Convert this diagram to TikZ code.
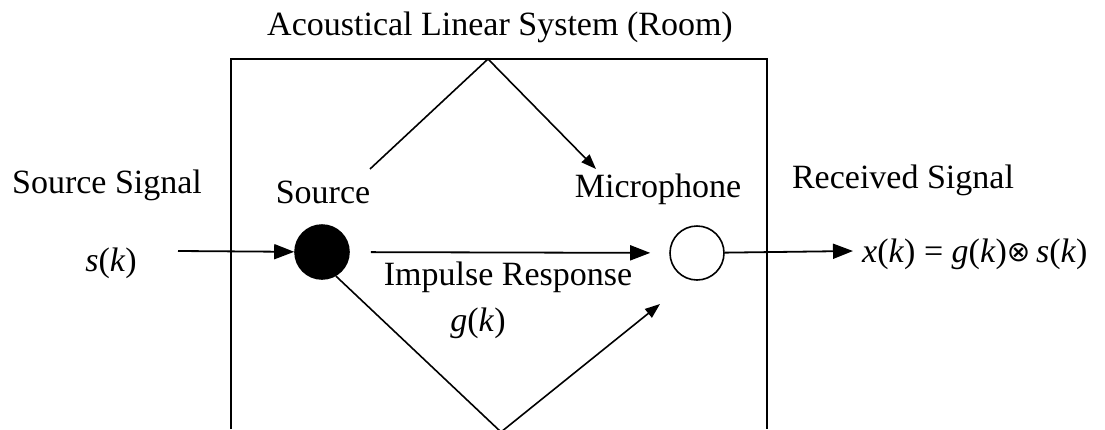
\documentclass[tikz,border=0pt]{standalone}
\usepackage{fontspec}
\setmainfont{Liberation Serif}
\newfontfamily\symfont{DejaVu Sans}
\usetikzlibrary{arrows.meta}
\begin{document}
\begin{tikzpicture}[x=1pt,y=-1pt, every node/.style={font=\fontsize{34}{40}\selectfont,inner sep=0pt},
  lbl/.style={anchor=base},
  arr/.style={line width=1.8pt,-{Triangle[length=20pt,width=15pt]}},
  arrs/.style={line width=1.6pt,-{Triangle[length=15pt,width=11pt]}},
  dot/.style={circle,draw,line width=1.6pt,minimum size=54pt}]
\useasboundingbox (0,0) rectangle (1105,429);
\draw[line width=1.6pt] (231,429) -- (231,59) -- (767,59) -- (767,429);
\node[lbl] (room) at (500,35) {Acoustical Linear System (Room)};
\node[lbl] (srcsig) at (107,193) {Source Signal};
\node[lbl] (srclbl) at (323,203) {Source};
\node[lbl] (miclbl) at (658,197) {Microphone};
\node[lbl] (recsig) at (903,188) {Received Signal};
\node[lbl] (sk) at (111,271) {\textit{s}(\textit{k})};
\node[dot,fill=black] (src) at (322,252) {};
\node[dot,fill=white] (mic) at (697,253) {};
\node[lbl] (imp) at (508,285) {Impulse Response};
\node[lbl] (gk) at (478,331) {\textit{g}(\textit{k})};
\node[anchor=base west] (xk) at (862,262) {\textit{x}(\textit{k}) = \textit{g}(\textit{k}){\symfont\fontsize{28}{30}\selectfont\raisebox{0.5pt}{⊗}}\,\textit{s}(\textit{k})};
\coordinate (in) at (178,251);
\coordinate (out) at (853,251);
\coordinate (topstart) at (370,169);
\coordinate (topapex) at (488,59);
\coordinate (topend) at (596,169);
\coordinate (botapex) at (501,432);
\coordinate (botend) at (660,304);
\draw[arr] (in) -- (src);
\draw[arr,shorten <=21pt,shorten >=19pt] (src) -- (mic);
\draw[arr] (mic) -- (out);
\draw[arrs] (topstart) -- (topapex) -- (topend);
\draw[arrs] (src.-60) -- (botapex) -- (botend);
\end{tikzpicture}
\end{document}
